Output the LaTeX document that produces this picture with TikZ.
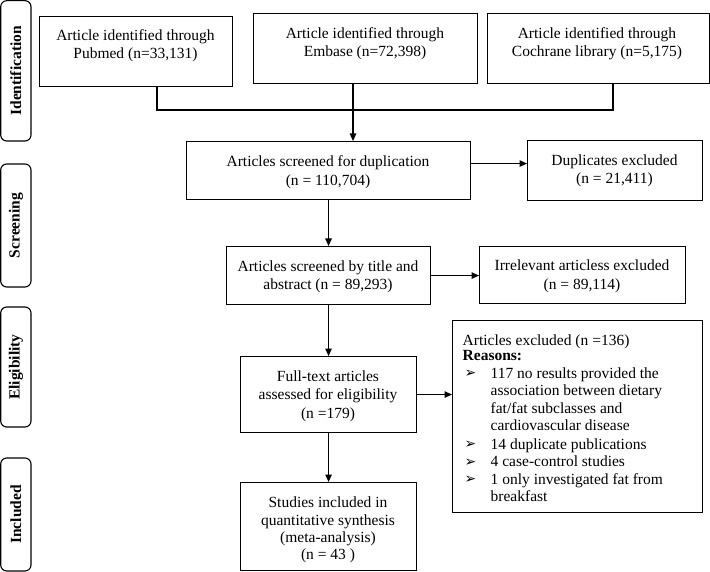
\documentclass[tikz,border=0pt]{standalone}
\usepackage{fontspec}
\setmainfont{Liberation Serif}
\newfontfamily\symfont{DejaVu Sans}
\usetikzlibrary{arrows.meta}
\newcommand{\arrowbul}{\makebox[28pt][l]{\hspace*{2pt}\raisebox{0.5pt}{\symfont\fontsize{14}{14}\selectfont ➢}}}
\newcommand{\hang}{\hspace*{28pt}}
\begin{document}
\begin{tikzpicture}[x=1pt,y=-1pt,
  every node/.style={font=\fontsize{15.5}{18.5}\selectfont},
  box/.style={draw, line width=1.1pt, inner sep=0pt, anchor=north west},
  txt/.style={align=center, inner sep=0pt},
  lab/.style={draw, line width=1.1pt, rounded corners=6pt, rotate=90, inner sep=0pt,
              minimum height=30.3pt, font=\bfseries\fontsize{15.5}{18.5}\selectfont},
  conn/.style={line width=1.1pt},
  arr/.style={line width=1.1pt, -{Triangle[length=7.5pt,width=6.5pt]}}]
\useasboundingbox (0,0) rectangle (710,572);
% side labels
\node[lab, minimum width=140.3pt] (lid) at (15.85,70.85) {Identification};
\node[lab, minimum width=123pt] (lsc) at (15.85,225.5) {Screening};
\node[lab, minimum width=120pt] (lel) at (15.85,367) {Eligibility};
\node[lab, minimum width=113pt] (lin) at (15.85,514.5) {Included};
% identification boxes
\node[box, minimum width=193pt, minimum height=70pt] (pub) at (39,16) {};
\node[txt] (pubT) at (135.5,45.5) {Article identified through\\Pubmed (n=33,131)};
\node[box, minimum width=224pt, minimum height=70pt] (emb) at (253,13) {};
\node[txt] (embT) at (365,43.5) {Article identified through\\Embase (n=72,398)};
\node[box, minimum width=222pt, minimum height=70pt] (coch) at (487,13) {};
\node[txt] (cochT) at (597,43.5) {Article identified through\\Cochrane library (n=5,175)};
% screening
\node[box, minimum width=284pt, minimum height=58pt] (dup) at (186,141) {};
\node[txt] (dupT) at (328,172) {Articles screened for duplication\\(n = 110,704)};
\node[box, minimum width=175pt, minimum height=60pt] (dupx) at (527,140) {};
\node[txt] (dupxT) at (614.5,171) {Duplicates excluded\\(n = 21,411)};
\node[box, minimum width=204pt, minimum height=58pt] (title) at (226,246) {};
\node[txt] (titleT) at (328,277) {Articles screened by title and\\abstract (n = 89,293)};
\node[box, minimum width=206pt, minimum height=57pt] (irr) at (479,246) {};
\node[txt] (irrT) at (582,276.5) {Irrelevant articless excluded\\(n = 89,114)};
% eligibility
\node[box, minimum width=176pt, minimum height=76pt] (full) at (240,356) {};
\node[txt] (fullT) at (328,396) {Full-text articles\\assessed for eligibility\\(n =179)};
\node[box, minimum width=250pt, minimum height=192pt] (excl) at (452,320) {};
\node[anchor=north west, align=left, inner sep=0pt,
      font=\fontsize{15.5}{17.5}\selectfont] (exclT) at (462.5,335) {%
Articles excluded (n =136)\\[-2.5pt]
\textbf{Reasons:}\\
\arrowbul 117 no results provided the\\
\hang association between dietary\\
\hang fat/fat subclasses and\\
\hang cardiovascular disease\\[1pt]
\arrowbul 14 duplicate publications\\
\arrowbul 4 case-control studies\\
\arrowbul 1 only investigated fat from\\
\hang breakfast};
% included
\node[box, minimum width=176pt, minimum height=88pt] (stud) at (240,482) {};
\node[txt, font=\fontsize{15.5}{17.4}\selectfont] (studT) at (328,530) {Studies included in\\quantitative synthesis\\(meta-analysis)\\(n = 43 )};
% connectors
\coordinate (j1) at (157,110);
\coordinate (jm) at (353,110);
\coordinate (j3) at (613,110);
\draw[conn] (pub.south -| j1) -- (j1) -- (j3) -- (coch.south -| j3);
\draw[arr] (emb.south -| jm) -- (dup.north -| jm);
\draw[arr] ([yshift=7pt]dup.east) -- ([yshift=7pt]dupx.west);
\draw[arr] (dup.south) -- (title.north);
\draw[arr] (title.east) -- (irr.west |- title.east);
\draw[arr] (title.south) -- (full.north);
\draw[arr] (full.east) -- (excl.west |- full.east);
\draw[arr] (full.south) -- (stud.north);
\end{tikzpicture}
\end{document}
